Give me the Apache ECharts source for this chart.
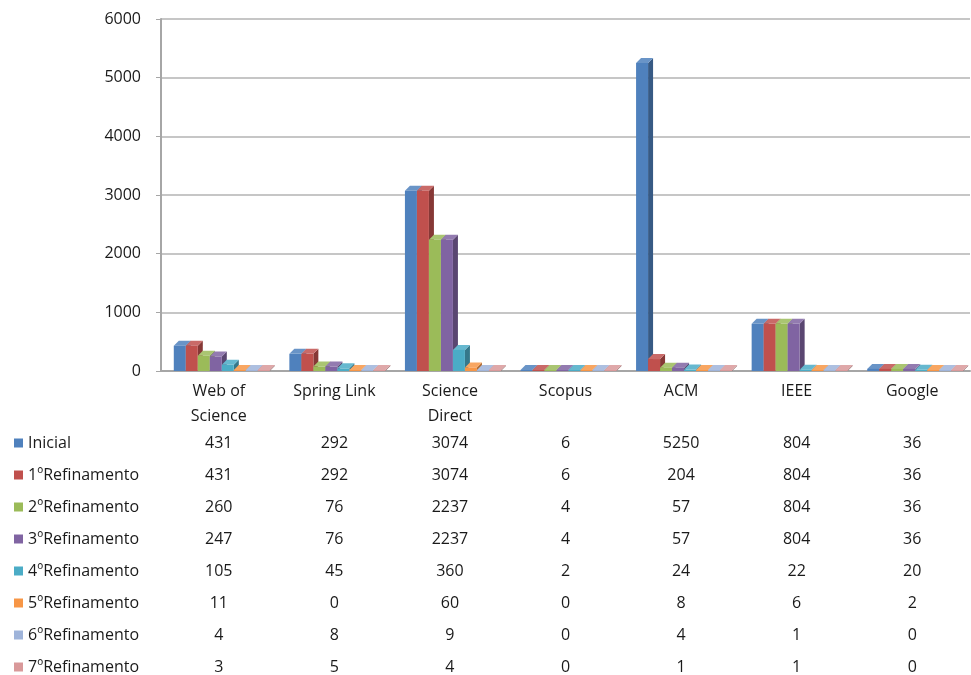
<!DOCTYPE html>
<html>
<head>
<meta charset="utf-8">
<script src="https://cdn.jsdelivr.net/npm/echarts@6/dist/echarts.min.js"></script>
<style>
  html, body { margin: 0; padding: 0; background: #fff; }
  #chart { width: 971px; height: 675px; }
</style>
</head>
<body>
<div id="chart"></div>
<script>
var bases = ['Web of\nScience', 'Spring Link', 'Science\nDirect', 'Scopus', 'ACM', 'IEEE', 'Google'];
var seriesNames = ['Inicial', '1ºRefinamento', '2ºRefinamento', '3ºRefinamento',
  '4ºRefinamento', '5ºRefinamento', '6ºRefinamento', '7ºRefinamento'];
var inicial = [431, 292, 3074, 6, 5250, 804, 36];
var ref1 = [431, 292, 3074, 6, 204, 804, 36];
var ref2 = [260, 76, 2237, 4, 57, 804, 36];
var ref3 = [247, 76, 2237, 4, 57, 804, 36];
var ref4 = [105, 45, 360, 2, 24, 22, 20];
var ref5 = [11, 0, 60, 0, 8, 6, 2];
var ref6 = [4, 8, 9, 0, 4, 1, 0];
var ref7 = [3, 5, 4, 0, 1, 1, 0];
var yTicks = [0, 1000, 2000, 3000, 4000, 5000, 6000];

var allValues = [inicial, ref1, ref2, ref3, ref4, ref5, ref6, ref7];
var colors = ['#4F81BD', '#C0504D', '#9BBB59', '#8064A2', '#4BACC6', '#F79646', '#9FB4DA', '#D9999A'];
var font = 'Open Sans';
var txt = '#1a1a1a';

var chart = echarts.init(document.getElementById('chart'));

// scale rgb channels of a hex colour (f < 1 darker, f > 1 lighter)
function shade(hex, f) {
  var n = parseInt(hex.slice(1), 16);
  var r = (n >> 16) & 255, g = (n >> 8) & 255, b = n & 255;
  function ch(v) {
    return Math.round(f < 1 ? v * f : v + (255 - v) * (f - 1));
  }
  return 'rgb(' + ch(r) + ',' + ch(g) + ',' + ch(b) + ')';
}

// fake 3D column: front face, right side, top
function makeRender(idx) {
  return function (params, api) {
    var cat = api.value(0);
    var val = api.value(1);
    var top = api.coord([cat, val]);
    var base = api.coord([cat, 0]);
    var w = 12, d = 5;
    var x0 = top[0] - 4 * w + idx * w + 3;
    var yt = Math.min(top[1], base[1] - 1);
    var yb = base[1];
    var c = colors[idx];
    return {
      type: 'group',
      children: [
        { type: 'polygon', shape: { points: [[x0 + w, yt], [x0 + w + d, yt - d], [x0 + w + d, yb - d], [x0 + w, yb]] }, style: { fill: shade(c, 0.7) } },
        { type: 'polygon', shape: { points: [[x0, yt], [x0 + d, yt - d], [x0 + w + d, yt - d], [x0 + w, yt]] }, style: { fill: shade(c, 1.15) } },
        { type: 'rect', shape: { x: x0, y: yt, width: w, height: yb - yt }, style: { fill: c } }
      ]
    };
  };
}

var xAxes = [{
  type: 'category',
  data: bases,
  gridIndex: 0,
  position: 'bottom',
  axisLine: { show: true, lineStyle: { color: '#a6a6a6', width: 2 } },
  axisTick: { show: false },
  axisLabel: { color: txt, fontFamily: font, fontSize: 16, lineHeight: 25, margin: 8, interval: 0 }
}];
for (var i = 0; i < allValues.length; i++) {
  xAxes.push({
    type: 'category',
    data: allValues[i].map(String),
    gridIndex: 0,
    position: 'bottom',
    offset: 62 + 32 * i,
    axisLine: { show: false },
    axisTick: { show: false },
    splitLine: { show: false },
    axisLabel: { color: txt, fontFamily: font, fontSize: 16, lineHeight: 20, margin: 0, interval: 0 }
  });
}

var series = [];
for (var j = 0; j < allValues.length; j++) {
  series.push({
    name: seriesNames[j],
    type: 'custom',
    xAxisIndex: 0,
    itemStyle: { color: colors[j] },
    renderItem: makeRender(j),
    encode: { x: 0, y: 1 },
    data: allValues[j].map(function (v, k) { return [k, v]; })
  });
}

chart.setOption({
  animation: false,
  color: colors,
  grid: { left: 161, right: 1, top: 19, bottom: 304, outerBoundsMode: 'none' },
  legend: {
    orient: 'vertical',
    left: 9,
    top: 428,
    height: 270,
    icon: 'rect',
    itemWidth: 9,
    itemHeight: 9,
    itemGap: 12,
    textStyle: { color: txt, fontFamily: font, fontSize: 16, lineHeight: 20, height: 20 },
    data: seriesNames
  },
  xAxis: xAxes,
  yAxis: {
    type: 'value',
    min: yTicks[0],
    max: yTicks[yTicks.length - 1],
    interval: 1000,
    axisLine: { show: true, lineStyle: { color: '#a6a6a6', width: 2 } },
    axisTick: { show: true, length: 5, lineStyle: { color: '#a6a6a6' } },
    splitLine: { lineStyle: { color: '#b3b3b3', width: 1.5 } },
    axisLabel: { color: txt, fontFamily: font, fontSize: 16, margin: 20, formatter: function (v) { return String(v); } }
  },
  series: series
});
</script>
</body>
</html>
